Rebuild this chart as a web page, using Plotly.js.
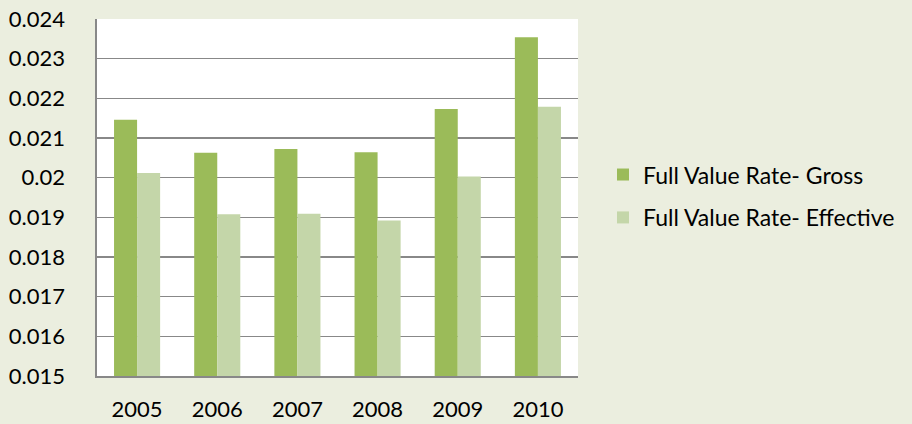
<!DOCTYPE html>
<html>
<head>
<meta charset="utf-8">
<script src="https://cdn.plot.ly/plotly-3.0.1.min.js"></script>
<style>html,body{margin:0;padding:0;background:#EBEEDF;}</style>
</head>
<body>
<div id="chart" style="width:912px;height:424px;"></div>
<script>
const years = ["2005", "2006", "2007", "2008", "2009", "2010"];
const grossRate = [0.02146, 0.02063, 0.02072, 0.02064, 0.02173, 0.02354];
const effectiveRate = [0.02012, 0.01908, 0.01909, 0.01892, 0.02003, 0.02179];
const yTicks = [0.015, 0.016, 0.017, 0.018, 0.019, 0.02, 0.021, 0.022, 0.023, 0.024];
const yTickText = ["0.015", "0.016", "0.017", "0.018", "0.019", "0.02", "0.021", "0.022", "0.023", "0.024"];

const tickFont = {family: "Lato, 'Open Sans', sans-serif", size: 22, color: "#000000"};
const legendFont = {family: "Lato, 'Open Sans', sans-serif", size: 23, color: "#000000"};

const data = [
  {type: "bar", name: "Full Value Rate- Gross", x: years, y: grossRate,
   marker: {color: "#9BBB59"}, legendgroup: "a"},
  {type: "bar", name: "Full Value Rate- Effective", x: years, y: effectiveRate,
   marker: {color: "#C4D6A9"}, legendgroup: "b"}
];

const layout = {
  width: 912, height: 424,
  margin: {l: 97, r: 334, t: 19, b: 48, pad: 0},
  paper_bgcolor: "#EBEEDF",
  plot_bgcolor: "#FFFFFF",
  font: tickFont,
  barmode: "group",
  bargap: 0.425,
  bargroupgap: 0,
  showlegend: true,
  legend: {x: 1.052, xanchor: "left", y: 0.504, yanchor: "middle",
           bgcolor: "rgba(0,0,0,0)", font: legendFont, tracegroupgap: 10,
           traceorder: "grouped", itemwidth: 30},
  xaxis: {type: "category", showgrid: false, showline: true, linecolor: "#888888", linewidth: 1.6,
          ticks: "", ticklabelstandoff: 13, tickfont: tickFont},
  yaxis: {range: [0.015, 0.024], tickvals: yTicks, ticktext: yTickText,
          showgrid: true, gridcolor: "#888888", gridwidth: 1.6,
          showline: true, linecolor: "#888888", linewidth: 1.6,
          zeroline: false, ticks: "", ticklabelstandoff: 26, tickfont: tickFont}
};

Plotly.newPlot("chart", data, layout, {displayModeBar: false, staticPlot: true});
</script>
</body>
</html>
